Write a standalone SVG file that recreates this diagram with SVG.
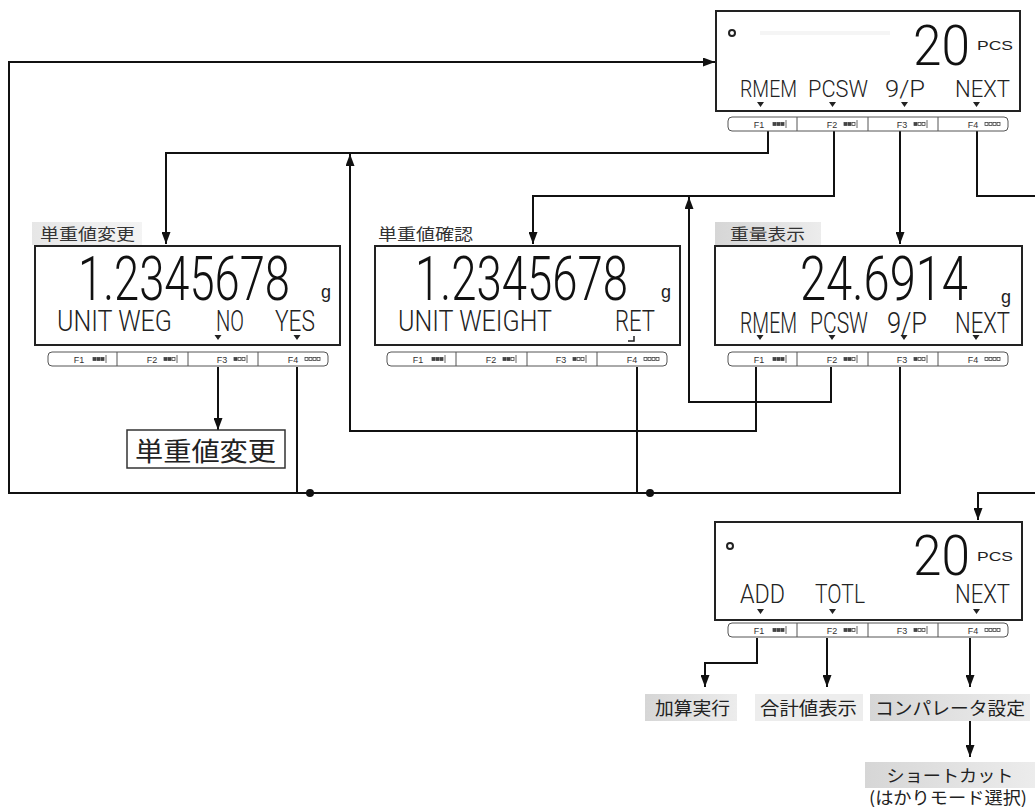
<svg xmlns="http://www.w3.org/2000/svg" xmlns:xlink="http://www.w3.org/1999/xlink" width="1035" height="807" viewBox="0 0 1035 807">
<style>
.disp{fill:#fff;stroke:#222;stroke-width:2}
.strip{fill:#fff;stroke:#555;stroke-width:1}
.div{stroke:#555;stroke-width:1}
.fk{font-family:"Liberation Sans",Arial,sans-serif;font-size:9px;fill:#333;text-anchor:middle}
.sq{stroke:#444;stroke-width:0.8}
.big{font-family:Roboto,"DejaVu Sans",sans-serif;font-weight:300;fill:#111}
.seg{font-family:Roboto,"DejaVu Sans Condensed","DejaVu Sans",sans-serif;font-weight:300;fill:#222}
.unit{font-family:"Liberation Sans",Arial,sans-serif;fill:#222}
.tri{fill:#222}
.cap{font-family:"Noto Sans CJK JP","Noto Sans CJK SC",sans-serif;fill:#333}
.lbl{font-family:"Noto Sans CJK JP","Noto Sans CJK SC",sans-serif;fill:#222}
.conn{fill:none;stroke:#111;stroke-width:2}
</style>
<defs>
<marker id="arr" viewBox="0 0 12 9" refX="12" refY="4.5" markerWidth="12" markerHeight="9" markerUnits="userSpaceOnUse" orient="auto">
<path d="M0,0 L12,4.5 L0,9 z" fill="#111"/>
</marker>
<linearGradient id="gbg" x1="0" y1="0" x2="1" y2="0">
<stop offset="0" stop-color="#d6d6d6"/>
<stop offset="1" stop-color="#ececec"/>
</linearGradient>
<g id="fstrip">
<rect x="0" y="0" width="280" height="14" rx="4" class="strip"/>
<line x1="69" y1="0" x2="69" y2="14" class="div"/>
<line x1="140" y1="0" x2="140" y2="14" class="div"/>
<line x1="210" y1="0" x2="210" y2="14" class="div"/>
<text x="31" y="10.5" class="fk">F1</text>
<text x="104" y="10.5" class="fk">F2</text>
<text x="174" y="10.5" class="fk">F3</text>
<text x="245" y="10.5" class="fk">F4</text>
<rect x="45" y="5.5" width="3" height="3" class="sq" fill="#444"/><rect x="49" y="5.5" width="3" height="3" class="sq" fill="#444"/><rect x="53" y="5.5" width="3" height="3" class="sq" fill="#444"/><line x1="58" y1="3" x2="58" y2="11" class="sq"/>
<rect x="116" y="5.5" width="3" height="3" class="sq" fill="#444"/><rect x="120" y="5.5" width="3" height="3" class="sq" fill="#444"/><rect x="124" y="5.5" width="3" height="3" class="sq" fill="#fff"/><line x1="129" y1="3" x2="129" y2="11" class="sq"/>
<rect x="186" y="5.5" width="3" height="3" class="sq" fill="#444"/><rect x="190" y="5.5" width="3" height="3" class="sq" fill="#fff"/><rect x="194" y="5.5" width="3" height="3" class="sq" fill="#fff"/><line x1="199" y1="3" x2="199" y2="11" class="sq"/>
<rect x="257" y="5.5" width="3" height="3" class="sq" fill="#fff"/><rect x="261" y="5.5" width="3" height="3" class="sq" fill="#fff"/><rect x="265" y="5.5" width="3" height="3" class="sq" fill="#fff"/><rect x="269" y="5.5" width="3" height="3" class="sq" fill="#fff"/>
</g>
</defs>
<rect width="1035" height="807" fill="#fff"/>

<g id="connectors">
<path class="conn" d="M768,131 V153 H166 V244" marker-end="url(#arr)"/>
<path class="conn" d="M756,367 V431 H350 V154" marker-end="url(#arr)"/>
<path class="conn" d="M834,131 V196 H533 V244" marker-end="url(#arr)"/>
<path class="conn" d="M831,367 V402 H689 V197" marker-end="url(#arr)"/>
<path class="conn" d="M900,131 V244" marker-end="url(#arr)"/>
<path class="conn" d="M977,131 V196 H1036"/>
<path class="conn" d="M1036,493 H978 V520" marker-end="url(#arr)"/>
<path class="conn" d="M900,367 V493 H9 V62 H715" marker-end="url(#arr)"/>
<path class="conn" d="M297,367 V493"/>
<path class="conn" d="M637,367 V493"/>
<circle cx="310" cy="493" r="4" fill="#111"/>
<circle cx="650" cy="493" r="4" fill="#111"/>
<path class="conn" d="M218,367 V430" marker-end="url(#arr)"/>
<path class="conn" d="M757,638 V663 H705 V687" marker-end="url(#arr)"/>
<path class="conn" d="M827,638 V687" marker-end="url(#arr)"/>
<path class="conn" d="M970,638 V687" marker-end="url(#arr)"/>
<path class="conn" d="M970,718 V757" marker-end="url(#arr)"/>
</g>

<g id="node-top">
<rect x="716" y="11" width="304" height="100" class="disp"/>
<rect x="760" y="31" width="130" height="4" fill="#f5f5f5"/>
<circle cx="732" cy="33" r="3" fill="none" stroke="#222" stroke-width="2"/>
<text transform="translate(913,65) scale(1,1.28)" class="big" font-size="44" textLength="57" lengthAdjust="spacingAndGlyphs">20</text>
<text x="977" y="50" class="unit" font-size="13" textLength="36" lengthAdjust="spacingAndGlyphs">PCS</text>
<text transform="translate(740,97) scale(1,1.26)" class="seg" font-size="19" textLength="57" lengthAdjust="spacingAndGlyphs">RMEM</text>
<text transform="translate(808,97) scale(1,1.26)" class="seg" font-size="19" textLength="60" lengthAdjust="spacingAndGlyphs">PCSW</text>
<text transform="translate(885,97) scale(1,1.26)" class="seg" font-size="19" textLength="40" lengthAdjust="spacingAndGlyphs">9/P</text>
<text transform="translate(955,97) scale(1,1.26)" class="seg" font-size="19" textLength="55" lengthAdjust="spacingAndGlyphs">NEXT</text>
<path class="tri" d="M757,102 h7 l-3.5,5 z M829,102 h7 l-3.5,5 z M901,102 h7 l-3.5,5 z M973,102 h7 l-3.5,5 z"/>
<use href="#fstrip" x="728" y="117"/>
</g>

<g id="node-left">
<rect x="32" y="222" width="110" height="23" fill="url(#gbg)" opacity="0.6"/>
<text x="40" y="240" class="cap" font-size="16" textLength="95" lengthAdjust="spacingAndGlyphs">単重値変更</text>
<rect x="35" y="246" width="305" height="99" class="disp"/>
<text transform="translate(78,300) scale(1,1.36)" class="big" font-size="44.5" textLength="212" lengthAdjust="spacingAndGlyphs">1.2345678</text>
<text x="321" y="298" class="unit" font-size="18">g</text>
<text transform="translate(57,331) scale(1,1.38)" class="seg" font-size="21" textLength="115" lengthAdjust="spacingAndGlyphs">UNIT WEG</text>
<text transform="translate(216,331) scale(1,1.38)" class="seg" font-size="21" textLength="28" lengthAdjust="spacingAndGlyphs">NO</text>
<text transform="translate(275,331) scale(1,1.38)" class="seg" font-size="21" textLength="40" lengthAdjust="spacingAndGlyphs">YES</text>
<path class="tri" d="M214.5,335 h7 l-3.5,5 z M293.5,335 h7 l-3.5,5 z"/>
<use href="#fstrip" x="48" y="352"/>
</g>

<g id="node-mid">
<text x="378" y="240" class="cap" font-size="16" textLength="95" lengthAdjust="spacingAndGlyphs">単重値確認</text>
<rect x="375" y="246" width="305" height="99" class="disp"/>
<text transform="translate(415,300) scale(1,1.36)" class="big" font-size="44.5" textLength="213" lengthAdjust="spacingAndGlyphs">1.2345678</text>
<text x="661" y="298" class="unit" font-size="18">g</text>
<text transform="translate(398,331) scale(1,1.38)" class="seg" font-size="21" textLength="154" lengthAdjust="spacingAndGlyphs">UNIT WEIGHT</text>
<text transform="translate(615,331) scale(1,1.38)" class="seg" font-size="21" textLength="40" lengthAdjust="spacingAndGlyphs">RET</text>
<path d="M628,341 H634 V336" fill="none" stroke="#222" stroke-width="1.5"/>
<use href="#fstrip" x="387" y="352"/>
</g>

<g id="node-right">
<rect x="715" y="222" width="106" height="24" fill="url(#gbg)"/>
<text x="730" y="240" class="cap" font-size="16" textLength="75" lengthAdjust="spacingAndGlyphs">重量表示</text>
<rect x="715" y="246" width="307" height="99" class="disp"/>
<text transform="translate(800,300) scale(1,1.31)" class="big" font-size="46.3" textLength="168" lengthAdjust="spacingAndGlyphs">24.6914</text>
<text x="1001" y="303" class="unit" font-size="18">g</text>
<text transform="translate(740,333) scale(1,1.38)" class="seg" font-size="21" textLength="57" lengthAdjust="spacingAndGlyphs">RMEM</text>
<text transform="translate(810,333) scale(1,1.38)" class="seg" font-size="21" textLength="58" lengthAdjust="spacingAndGlyphs">PCSW</text>
<text transform="translate(887,333) scale(1,1.38)" class="seg" font-size="21" textLength="40" lengthAdjust="spacingAndGlyphs">9/P</text>
<text transform="translate(955,333) scale(1,1.38)" class="seg" font-size="21" textLength="55" lengthAdjust="spacingAndGlyphs">NEXT</text>
<path class="tri" d="M756.5,335 h7 l-3.5,5 z M828.5,335 h7 l-3.5,5 z M900.5,335 h7 l-3.5,5 z M972.5,335 h7 l-3.5,5 z"/>
<use href="#fstrip" x="728" y="352"/>
</g>

<g id="node-change">
<rect x="127" y="430" width="158" height="38" fill="#fff" stroke="#333" stroke-width="1.5"/>
<text x="135" y="461" class="lbl" font-size="26" textLength="141" lengthAdjust="spacingAndGlyphs">単重値変更</text>
</g>

<g id="node-bottom">
<rect x="715" y="522" width="307" height="98" class="disp"/>
<circle cx="730" cy="546" r="3" fill="none" stroke="#222" stroke-width="2"/>
<text transform="translate(913,575) scale(1,1.28)" class="big" font-size="44" textLength="57" lengthAdjust="spacingAndGlyphs">20</text>
<text x="977" y="561" class="unit" font-size="13" textLength="36" lengthAdjust="spacingAndGlyphs">PCS</text>
<text transform="translate(740,603) scale(1,1.48)" class="seg" font-size="18" textLength="45" lengthAdjust="spacingAndGlyphs">ADD</text>
<text transform="translate(815,603) scale(1,1.48)" class="seg" font-size="18" textLength="50" lengthAdjust="spacingAndGlyphs">TOTL</text>
<text transform="translate(955,603) scale(1,1.48)" class="seg" font-size="18" textLength="55" lengthAdjust="spacingAndGlyphs">NEXT</text>
<path class="tri" d="M757,609 h7 l-3.5,5 z M829,609 h7 l-3.5,5 z M973,609 h7 l-3.5,5 z"/>
<use href="#fstrip" x="728" y="623"/>
</g>

<g id="label-add">
<rect x="645" y="694" width="92" height="27" fill="url(#gbg)"/>
<text x="655" y="715" class="lbl" font-size="18" textLength="75" lengthAdjust="spacingAndGlyphs">加算実行</text>
</g>
<g id="label-total">
<rect x="755" y="694" width="108" height="27" fill="#ededed"/>
<text x="760" y="715" class="lbl" font-size="18" textLength="97" lengthAdjust="spacingAndGlyphs">合計値表示</text>
</g>
<g id="label-comp">
<rect x="870" y="694" width="160" height="27" fill="url(#gbg)"/>
<text x="875" y="715" class="lbl" font-size="18" textLength="150" lengthAdjust="spacingAndGlyphs">コンパレータ設定</text>
</g>
<g id="label-shortcut">
<rect x="865" y="762" width="170" height="26" fill="url(#gbg)"/>
<text x="950" y="782" class="lbl" font-size="17" text-anchor="middle" fill="#444" textLength="127" lengthAdjust="spacingAndGlyphs">ショートカット</text>
<text x="948" y="804" class="lbl" font-size="17" text-anchor="middle" textLength="158" lengthAdjust="spacingAndGlyphs">(はかりモード選択)</text>
</g>
</svg>
